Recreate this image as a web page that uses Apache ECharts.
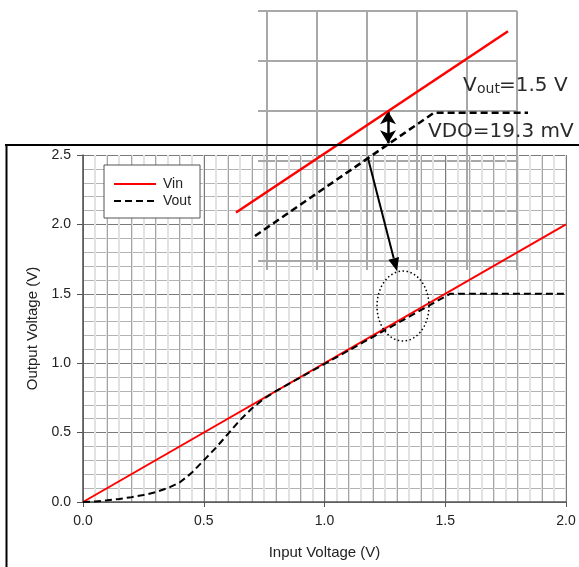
<!DOCTYPE html>
<html>
<head>
<meta charset="utf-8">
<script src="https://cdn.jsdelivr.net/npm/echarts@6/dist/echarts.min.js"></script>
<style>
  html, body { margin: 0; padding: 0; background: #fff; }
  #c { width: 579px; height: 567px; }
</style>
</head>
<body>
<div id="c"></div>
<script>
// Regulator transfer curve: input sweep vs. output (V)
const vinX = [0.0, 2.0];
const vinY = [0.0, 2.0];
const voutX = [0.0, 0.05, 0.10, 0.15, 0.20, 0.25, 0.30, 0.35, 0.40, 0.45, 0.50, 0.55, 0.60, 0.65, 0.70, 0.75, 0.80, 1.52, 2.0];
const voutY = [0.0, 0.003, 0.012, 0.022, 0.035, 0.050, 0.070, 0.100, 0.140, 0.210, 0.300, 0.390, 0.490, 0.590, 0.675, 0.745, 0.800, 1.50, 1.50];
const xTicks = [0.0, 0.5, 1.0, 1.5, 2.0];
const yTicks = [0.0, 0.5, 1.0, 1.5, 2.0, 2.5];

// Magnified view around the dropout knee
const zoomVinX = [1.4401, 1.5489];
const zoomVinY = [1.4401, 1.5489];
const zoomVoutX = [1.4477, 1.5193, 1.5569];
const zoomVoutY = [1.4260, 1.5000, 1.5000];
const dropoutAt = 1.5009;   // input voltage where VDO is marked
const dropoutV = 0.0193;    // VDO = 19.3 mV
const pointerFrom = [1.4929, 1.4727]; // on the magnified Vout trace
const pointerTo = [1.300, 1.665];     // top of the highlighted region
const focusCenter = [1.325, 1.412];   // highlighted region on the main plot

const FONT = 'Liberation Sans, Arial, sans-serif';
const LABEL_FONT = 'DejaVu Sans, sans-serif';
const INSET_GRAY = '#a8a8a8';
const pair = (xs, ys) => xs.map((x, i) => [x, ys[i]]);

const hiddenGridAxis = (gridIndex, min, max, interval, color, width) => ({
  type: 'value', gridIndex, min, max, interval,
  axisLine: { show: false }, axisTick: { show: false }, axisLabel: { show: false },
  splitLine: { show: true, showMinLine: true, showMaxLine: true, lineStyle: { color, width, type: 'solid' } }
});
const insetAxis = (gridIndex, pos) => ({
  type: 'value', gridIndex, position: pos, min: 0, max: 5, interval: 1,
  axisLine: { show: true, onZero: false, lineStyle: { color: INSET_GRAY, width: 2 } },
  axisTick: { show: true, inside: false, length: 9, lineStyle: { color: INSET_GRAY, width: 2 } },
  axisLabel: { show: false },
  splitLine: { show: true, showMinLine: true, showMaxLine: true, lineStyle: { color: INSET_GRAY, width: 2 } }
});
const dataAxis = (gridIndex, min, max) => ({
  type: 'value', gridIndex, min, max, show: false,
  axisLine: { show: false }, axisTick: { show: false }, axisLabel: { show: false }, splitLine: { show: false }
});

const chart = echarts.init(document.getElementById('c'));

chart.setOption({
  animation: false,
  backgroundColor: '#fff',
  grid: [
    // main plot
    { left: 83, top: 155, width: 483, height: 347, containLabel: false, outerBoundsMode: 'none' },
    // magnified frame (grid lines only)
    { left: 267, top: 11, width: 250, height: 250, containLabel: false, outerBoundsMode: 'none' },
    // magnified traces, same scale as the frame but wider so the traces run past it
    { left: 227, top: 11, width: 310, height: 250, containLabel: false, outerBoundsMode: 'none' }
  ],
  legend: {
    data: ['Vin', 'Vout'],
    orient: 'vertical',
    left: 104, top: 165,
    padding: [12, 9, 10, 9],
    itemWidth: 42, itemHeight: 14, itemGap: 3,
    backgroundColor: '#fff',
    borderColor: '#555', borderWidth: 1, borderRadius: 0,
    itemStyle: { opacity: 0 },
    textStyle: { fontFamily: FONT, fontSize: 14, color: '#222', padding: [0, 0, 0, 2] },
    selectedMode: false
  },
  xAxis: [
    hiddenGridAxis(0, 0, 2, 0.05, '#e2e2e2', 2),
    hiddenGridAxis(0, 0, 2, 0.1, '#a6a6a6', 1),
    {
      type: 'value', gridIndex: 0, position: 'bottom', min: 0, max: 2, interval: 0.5,
      axisLine: { show: true, onZero: false, lineStyle: { color: '#555', width: 1.5 } },
      axisTick: { show: true, inside: false, length: 5, lineStyle: { color: '#555' } },
      axisLabel: {
        show: true, margin: 12, fontFamily: FONT, fontSize: 14, color: '#222',
        formatter: v => (xTicks.find(t => Math.abs(t - v) < 1e-9) ?? v).toFixed(1)
      },
      splitLine: { show: true, showMinLine: true, showMaxLine: true, lineStyle: { color: '#7a7a7a', width: 1 } },
      name: 'Input Voltage (V)', nameLocation: 'middle', nameGap: 43,
      nameTextStyle: { fontFamily: FONT, fontSize: 15, color: '#222' }
    },
    insetAxis(1, 'bottom'),
    dataAxis(2, 1.4365, 1.5605)
  ],
  yAxis: [
    hiddenGridAxis(0, 0, 2.5, 0.1, '#b4b4b4', 1),
    {
      type: 'value', gridIndex: 0, position: 'left', min: 0, max: 2.5, interval: 0.5,
      axisLine: { show: true, onZero: false, lineStyle: { color: '#555', width: 1.5 } },
      axisTick: { show: true, inside: false, length: 6, lineStyle: { color: '#555' } },
      axisLabel: {
        show: true, margin: 12, fontFamily: FONT, fontSize: 14, color: '#222',
        formatter: v => (yTicks.find(t => Math.abs(t - v) < 1e-9) ?? v).toFixed(1)
      },
      splitLine: { show: true, showMinLine: true, showMaxLine: true, lineStyle: { color: '#7a7a7a', width: 1 } },
      name: 'Output Voltage (V)', nameLocation: 'middle', nameGap: 42, nameRotate: 90,
      nameTextStyle: { fontFamily: FONT, fontSize: 15, color: '#222' }
    },
    insetAxis(1, 'left'),
    dataAxis(2, 1.411, 1.561)
  ],
  series: [
    {
      name: 'Vin', type: 'line', xAxisIndex: 2, yAxisIndex: 1,
      data: pair(vinX, vinY), symbol: 'none', z: 3,
      lineStyle: { color: '#ff0000', width: 2 }, itemStyle: { color: '#ff0000' }
    },
    {
      name: 'Vout', type: 'line', xAxisIndex: 2, yAxisIndex: 1,
      data: pair(voutX, voutY), symbol: 'none', z: 4,
      lineStyle: { color: '#000', width: 2, type: [7, 4] }, itemStyle: { color: '#000' }
    },
    {
      name: 'Vin detail', type: 'line', xAxisIndex: 4, yAxisIndex: 3,
      data: pair(zoomVinX, zoomVinY), symbol: 'none', clip: false, z: 5,
      lineStyle: { color: '#ff0000', width: 2.5 },
      markLine: {
        silent: true, symbol: ['arrow', 'arrow'], symbolSize: [12, 13],
        label: { show: false },
        lineStyle: { color: '#000', width: 2.5, type: 'solid' },
        data: [[{ coord: [dropoutAt, dropoutAt] }, { coord: [dropoutAt, dropoutAt - dropoutV] }]]
      }
    },
    {
      name: 'Vout detail', type: 'line', xAxisIndex: 4, yAxisIndex: 3,
      data: pair(zoomVoutX, zoomVoutY), symbol: 'none', clip: false, z: 5,
      lineStyle: { color: '#000', width: 2.5, type: [7, 4] }
    }
  ]
});

// Annotations: pointer arrow, highlighted ellipse, labels and the frame
const from = chart.convertToPixel({ xAxisIndex: 4, yAxisIndex: 3 }, pointerFrom);
const to = chart.convertToPixel({ xAxisIndex: 2, yAxisIndex: 1 }, pointerTo);
const ctr = chart.convertToPixel({ xAxisIndex: 2, yAxisIndex: 1 }, focusCenter);

const ang = Math.atan2(to[1] - from[1], to[0] - from[0]);
const headLen = 13, headHalf = 5.5;
const base = [to[0] - headLen * Math.cos(ang), to[1] - headLen * Math.sin(ang)];
const head = [
  to,
  [base[0] + headHalf * Math.sin(ang), base[1] - headHalf * Math.cos(ang)],
  [base[0] - headHalf * Math.sin(ang), base[1] + headHalf * Math.cos(ang)]
];

const ellipsePts = [];
for (let i = 0; i < 72; i++) {
  const t = (i / 72) * Math.PI * 2;
  ellipsePts.push([ctr[0] + 26 * Math.cos(t), ctr[1] + 35 * Math.sin(t)]);
}

const labelStyle = (text, size) => ({
  text, fontFamily: LABEL_FONT, fontSize: size, fill: '#2a2a2a', verticalAlign: 'bottom', align: 'left'
});

chart.setOption({
  graphic: [
    { type: 'line', z: 50, shape: { x1: from[0], y1: from[1], x2: base[0], y2: base[1] },
      style: { stroke: '#000', lineWidth: 2 } },
    { type: 'polygon', z: 50, shape: { points: head }, style: { fill: '#000' } },
    { type: 'polygon', z: 50, shape: { points: ellipsePts },
      style: { fill: 'none', stroke: '#000', lineWidth: 1.5, lineDash: [1.5, 2.5] } },
    { type: 'text', z: 50, x: 463, y: 96, style: labelStyle('V', 20) },
    { type: 'text', z: 50, x: 477, y: 96, style: labelStyle('out', 14) },
    { type: 'text', z: 50, x: 499, y: 96, style: labelStyle('=1.5 V', 20) },
    { type: 'text', z: 50, x: 428, y: 142, style: labelStyle('VDO=19.3 mV', 20) },
    { type: 'line', z: 60, shape: { x1: 5, y1: 145, x2: 579, y2: 145 },
      style: { stroke: '#000', lineWidth: 2 } },
    { type: 'line', z: 60, shape: { x1: 6.5, y1: 144, x2: 6.5, y2: 567 },
      style: { stroke: '#000', lineWidth: 2 } }
  ]
});
</script>
</body>
</html>
